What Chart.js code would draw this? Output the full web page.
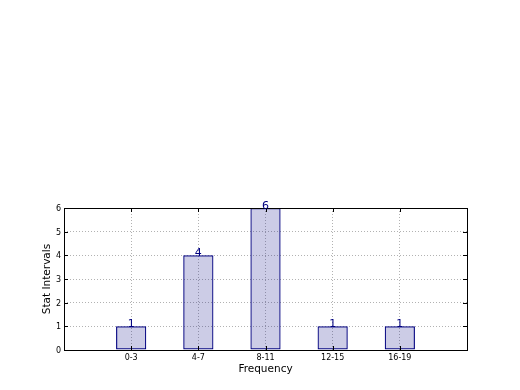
<!DOCTYPE html>
<html>
<head>
<meta charset="utf-8">
<script src="https://cdn.jsdelivr.net/npm/chart.js@4/dist/chart.umd.min.js"></script>
<style>
html,body{margin:0;padding:0;background:#fff;}
#wrap{width:520px;height:390px;position:relative;}
</style>
</head>
<body>
<div id="wrap"><canvas id="c"></canvas></div>
<script>
const categories = ['0-3', '4-7', '8-11', '12-15', '16-19'];
const counts = [1, 4, 6, 1, 1];
const yTicks = [0, 1, 2, 3, 4, 5, 6];
const xTitle = 'Frequency';
const yTitle = 'Stat Intervals';

const FONT = "'DejaVu Sans', sans-serif";
const NAVY = '#000080';

const frame = {
  id: 'frame',
  afterDraw(chart) {
    const ctx = chart.ctx, a = chart.chartArea;
    const xs = chart.scales.x, ys = chart.scales.y;
    ctx.save();
    ctx.strokeStyle = '#000';
    ctx.lineWidth = 1;
    ctx.beginPath();
    yTicks.forEach(v => {
      const y = Math.round(ys.getPixelForValue(v)) + 0.5;
      ctx.moveTo(a.left, y); ctx.lineTo(a.left + 4, y);
      ctx.moveTo(a.right, y); ctx.lineTo(a.right - 4, y);
    });
    categories.forEach((c, i) => {
      const x = Math.round(xs.getPixelForValue(i + 1)) + 0.5;
      ctx.moveTo(x, a.bottom); ctx.lineTo(x, a.bottom - 4);
      ctx.moveTo(x, a.top); ctx.lineTo(x, a.top + 4);
    });
    ctx.stroke();
    ctx.strokeRect(Math.round(a.left) + 0.5, Math.round(a.top) + 0.5,
                   Math.round(a.right - a.left), Math.round(a.bottom - a.top));
    ctx.fillStyle = NAVY;
    ctx.font = "11px " + FONT;
    ctx.textAlign = 'center';
    ctx.textBaseline = 'alphabetic';
    const meta = chart.getDatasetMeta(0);
    meta.data.forEach((bar, i) => {
      ctx.fillText(String(counts[i]), bar.x, bar.y + 1);
    });
    ctx.restore();
  }
};

new Chart(document.getElementById('c'), {
  type: 'bar',
  data: {
    datasets: [{
      data: categories.map((c, i) => ({ x: i + 1, y: counts[i] })),
      backgroundColor: 'rgba(0,0,128,0.2)',
      borderColor: NAVY,
      borderWidth: 1.2,
      borderSkipped: false,
      categoryPercentage: 1,
      barPercentage: 0.45
    }]
  },
  options: {
    responsive: true,
    maintainAspectRatio: false,
    animation: false,
    layout: { padding: { top: 208, right: 53, left: 0, bottom: 0 } },
    plugins: { legend: { display: false }, tooltip: { enabled: false } },
    scales: {
      x: {
        type: 'linear',
        min: 0, max: 6,
        offset: false,
        z: 1,
        afterFit(s) { s.height = 40; },
        ticks: {
          stepSize: 1,
          autoSkip: false,
          maxRotation: 0,
          padding: 3,
          color: '#000',
          font: { family: FONT, size: 8 },
          callback: (v) => (v >= 1 && v <= categories.length) ? categories[v - 1] : ''
        },
        grid: {
          drawTicks: false,
          offset: false,
          color: 'rgba(0,0,0,0.3)',
          lineWidth: 1
        },
        border: { display: false, dash: [1, 2] },
        title: {
          display: true, text: xTitle, color: '#000',
          font: { family: FONT, size: 10.5 },
          padding: { top: 0, bottom: 14 }
        }
      },
      y: {
        min: 0, max: 6,
        z: 1,
        afterFit(s) { s.width = 64; },
        afterBuildTicks(s) { s.ticks = yTicks.map(v => ({ value: v })); },
        ticks: {
          padding: 3,
          labelOffset: 1,
          color: '#000',
          font: { family: FONT, size: 8 }
        },
        grid: {
          drawTicks: false,
          color: 'rgba(0,0,0,0.3)',
          lineWidth: 1
        },
        border: { display: false, dash: [1, 2] },
        title: {
          display: true, text: yTitle, color: '#000',
          font: { family: FONT, size: 10.5 },
          padding: { top: 41, bottom: 0 }
        }
      }
    }
  },
  plugins: [frame]
});
</script>
</body>
</html>
